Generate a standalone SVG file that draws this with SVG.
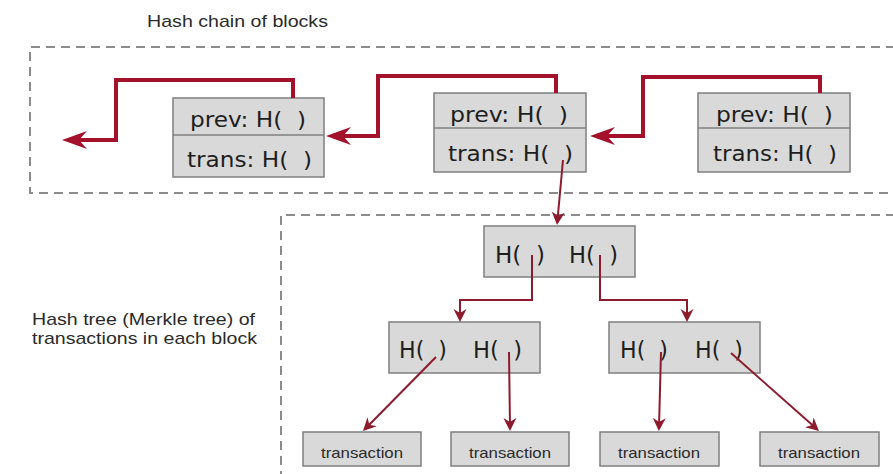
<svg xmlns="http://www.w3.org/2000/svg" width="893" height="474" viewBox="0 0 893 474">
  <style>
    .frame { fill: none; stroke: #8c8c8c; stroke-width: 2; stroke-dasharray: 9 6; }
    .box { fill: #d9d9d9; stroke: #7f7f7f; stroke-width: 1.5; }
    .sep { stroke: #7f7f7f; stroke-width: 1.5; }
    .caption { font-family: "Liberation Sans", Arial, sans-serif; font-size: 17px; fill: #2a2a2a; }
    .field { font-family: "DejaVu Sans", Verdana, sans-serif; font-size: 22px; fill: #1e1e1e; white-space: pre; }
    .hash { font-family: "DejaVu Sans", Verdana, sans-serif; font-size: 23px; fill: #1e1e1e; white-space: pre; }
    .tx { font-family: "Liberation Sans", Arial, sans-serif; font-size: 15px; fill: #2a2a2a; }
    .chain { fill: none; stroke: #a3112a; stroke-width: 4; stroke-linejoin: miter; marker-end: url(#bigHead); }
    .link { fill: none; stroke: #8e1a2e; stroke-width: 2; marker-end: url(#smallHead); }
  </style>
  <defs>
    <marker id="bigHead" markerUnits="userSpaceOnUse" markerWidth="26" markerHeight="20" viewBox="0 0 26 20" refX="17" refY="10" orient="auto">
      <path d="M0,1 L25,10 L0,19 L8,10 Z" fill="#a3112a"/>
    </marker>
    <marker id="smallHead" markerUnits="userSpaceOnUse" markerWidth="14" markerHeight="14" viewBox="0 0 14 14" refX="9" refY="7" orient="auto">
      <path d="M0,0.5 L13,7 L0,13.5 L4,7 Z" fill="#8e1a2e"/>
    </marker>
  </defs>

  <rect x="0" y="0" width="893" height="474" fill="#ffffff"/>

  <!-- section frames and captions -->
  <path class="frame" d="M895,47 H30 V193 H895"/>
  <path class="frame" d="M895,215 H281 V476"/>
  <text class="caption" x="147" y="27" textLength="181" lengthAdjust="spacingAndGlyphs">Hash chain of blocks</text>
  <text class="caption" x="32" y="325" textLength="223" lengthAdjust="spacingAndGlyphs">Hash tree (Merkle tree) of</text>
  <text class="caption" x="32" y="344" textLength="225" lengthAdjust="spacingAndGlyphs">transactions in each block</text>

  <!-- blocks of the chain -->
  <g id="block1">
    <rect class="box" x="173" y="98" width="151" height="79"/>
    <line class="sep" x1="173" y1="135" x2="324" y2="135"/>
    <text class="field" x="190" y="127" textLength="116" lengthAdjust="spacingAndGlyphs">prev: H(  )</text>
    <text class="field" x="187" y="167" textLength="125" lengthAdjust="spacingAndGlyphs">trans: H(  )</text>
  </g>
  <g id="block2">
    <rect class="box" x="434" y="93" width="152" height="79"/>
    <line class="sep" x1="434" y1="128" x2="586" y2="128"/>
    <text class="field" x="450" y="122" textLength="118" lengthAdjust="spacingAndGlyphs">prev: H(  )</text>
    <text class="field" x="448" y="161" textLength="125" lengthAdjust="spacingAndGlyphs">trans: H(  )</text>
  </g>
  <g id="block3">
    <rect class="box" x="698" y="93" width="152" height="79"/>
    <line class="sep" x1="698" y1="128" x2="850" y2="128"/>
    <text class="field" x="716" y="122" textLength="117" lengthAdjust="spacingAndGlyphs">prev: H(  )</text>
    <text class="field" x="713" y="161" textLength="124" lengthAdjust="spacingAndGlyphs">trans: H(  )</text>
  </g>

  <!-- Merkle tree nodes -->
  <g id="root">
    <rect class="box" x="484" y="226" width="151" height="51"/>
    <text class="hash" x="495" y="263" textLength="50" lengthAdjust="spacingAndGlyphs">H(  )</text>
    <text class="hash" x="569" y="263" textLength="49" lengthAdjust="spacingAndGlyphs">H(  )</text>
  </g>
  <g id="nodeLeft">
    <rect class="box" x="389" y="322" width="151" height="51"/>
    <text class="hash" x="399" y="358" textLength="48" lengthAdjust="spacingAndGlyphs">H(  )</text>
    <text class="hash" x="473" y="358" textLength="49" lengthAdjust="spacingAndGlyphs">H(  )</text>
  </g>
  <g id="nodeRight">
    <rect class="box" x="609" y="322" width="151" height="51"/>
    <text class="hash" x="620" y="358" textLength="48" lengthAdjust="spacingAndGlyphs">H(  )</text>
    <text class="hash" x="695" y="358" textLength="48" lengthAdjust="spacingAndGlyphs">H(  )</text>
  </g>

  <!-- transactions (leaves) -->
  <g id="tx1">
    <rect class="box" x="303" y="432" width="118" height="34"/>
    <text class="tx" x="321" y="458" textLength="82" lengthAdjust="spacingAndGlyphs">transaction</text>
  </g>
  <g id="tx2">
    <rect class="box" x="451" y="432" width="118" height="34"/>
    <text class="tx" x="469" y="458" textLength="82" lengthAdjust="spacingAndGlyphs">transaction</text>
  </g>
  <g id="tx3">
    <rect class="box" x="600" y="432" width="119" height="34"/>
    <text class="tx" x="618" y="458" textLength="82" lengthAdjust="spacingAndGlyphs">transaction</text>
  </g>
  <g id="tx4">
    <rect class="box" x="760" y="432" width="119" height="34"/>
    <text class="tx" x="778" y="458" textLength="82" lengthAdjust="spacingAndGlyphs">transaction</text>
  </g>

  <!-- hash pointers -->
  <g id="connectors">
    <path class="chain" d="M293,98 V80 H116 V140 H70"/>
    <path class="chain" d="M556,93 V76 H378 V136 H334"/>
    <path class="chain" d="M820,93 V77 H643 V136 H598"/>

    <path class="link" d="M563,160 L557.4,221"/>
    <path class="link" d="M532,255 V300 H460 V318"/>
    <path class="link" d="M600,255 V300 H687 V318"/>
    <path class="link" d="M436,357 L365.8,428.2"/>
    <path class="link" d="M509,352 L510,427"/>
    <path class="link" d="M661,352 L659,427"/>
    <path class="link" d="M731,353 L816,428.3"/>
  </g>
</svg>
